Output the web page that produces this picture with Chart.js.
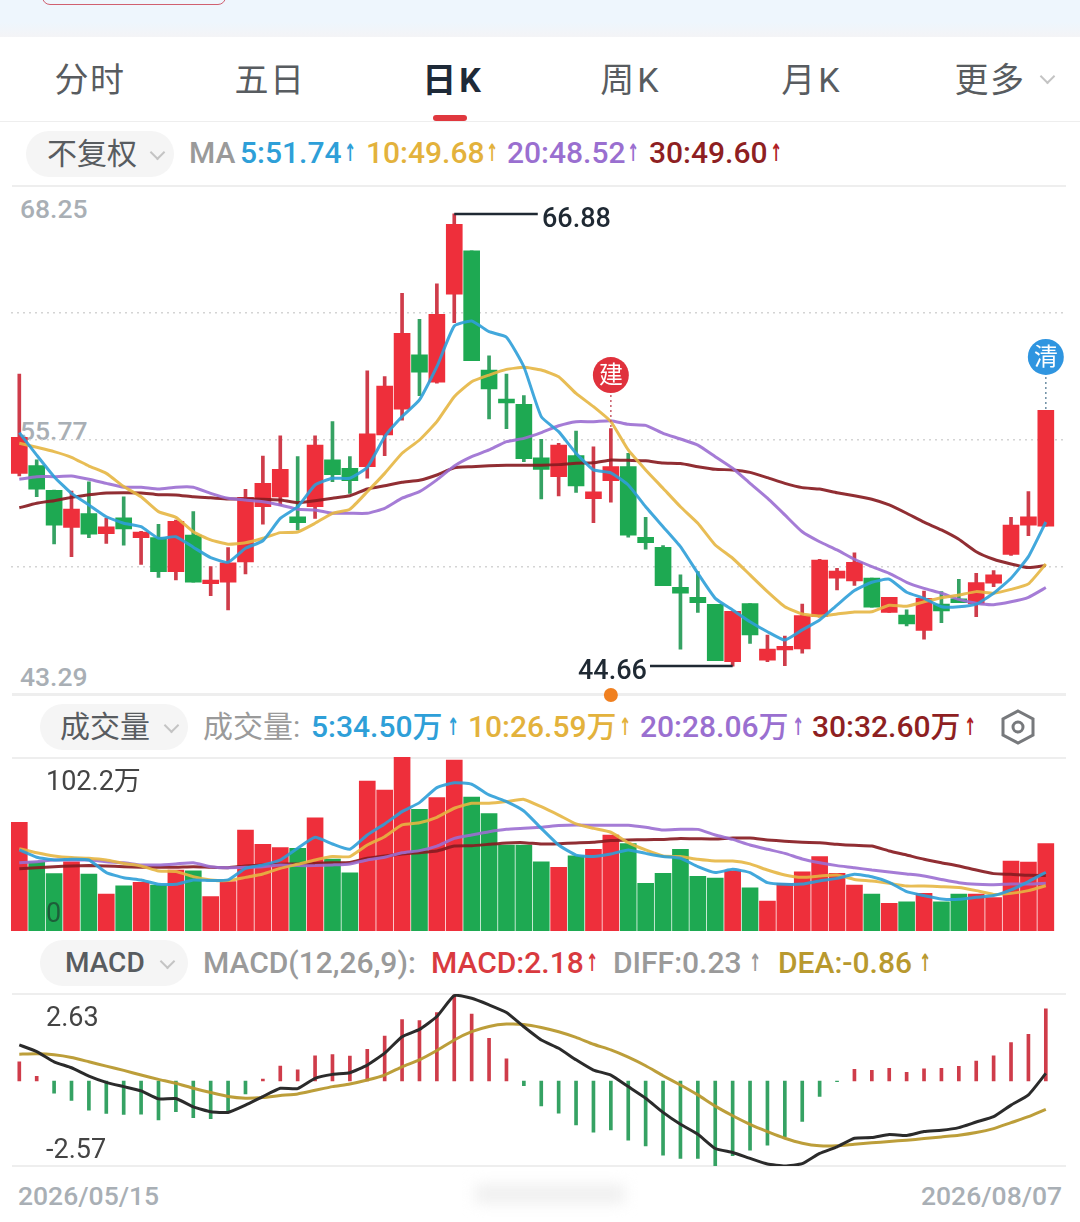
<!DOCTYPE html>
<html>
<head>
<meta charset="utf-8">
<script src="https://cdn.jsdelivr.net/npm/chart.js@4"></script>
<style>
html, body { margin: 0; padding: 0; background: #fff; }
body { position: relative; width: 1080px; height: 1222px; overflow: hidden; font-family: Roboto, "Noto Sans CJK SC", sans-serif; }
canvas { position: absolute; left: 0; z-index: 2; }
.t { position: absolute; white-space: nowrap; transform: translateY(-50%); z-index: 1; line-height: 1; }
.top { z-index: 3; }
.tab { font-size: 34px; letter-spacing: 1.5px; color: #585c60; transform: translate(-50%, -50%); }
.sub { font-size: 30px; font-weight: 500; letter-spacing: 0; }
.axis { font-size: 26.5px; color: #a9afb5; font-weight: 500; }
.dark { font-size: 27px; color: #444; }
.arrow { font-family: "DejaVu Sans"; font-weight: 700; font-size: 24px; transform: translateY(-50%) scaleX(0.6); transform-origin: left center; }
.pill { position: absolute; background: #f5f5f5; border-radius: 23px; }
.rule { position: absolute; left: 12px; width: 1054px; height: 2px; background: #eeeeee; }
.chev { position: absolute; width: 9px; height: 9px; border-right: 2px solid #c4c4c4; border-bottom: 2px solid #c4c4c4; transform: rotate(45deg); }
.mark { font-size: 24px; color: #fff; transform: translate(-50%, -50%); z-index: 3; }
</style>
</head>
<body>
<div style="position:absolute;left:0;top:0;width:1080px;height:37px;background:linear-gradient(#eef6fd 60%,#f4f4f6)"></div>
<div style="position:absolute;left:42px;top:-12px;width:182px;height:15px;border:1px solid #d06070;border-radius:8px"></div>

<span class="t tab" style="left:90px;top:80px">分时</span>
<span class="t tab" style="left:270px;top:80px">五日</span>
<span class="t tab" style="left:453px;top:80px;color:#1e2a38;font-weight:700;letter-spacing:3px">日K</span>
<span class="t tab" style="left:631px;top:80px;letter-spacing:3px">周K</span>
<span class="t tab" style="left:812px;top:80px;letter-spacing:3px">月K</span>
<span class="t tab" style="left:990px;top:80px">更多</span>
<div class="chev" style="left:1042px;top:71px"></div>
<div style="position:absolute;left:433px;top:115px;width:34px;height:6px;border-radius:3px;background:#e0383e"></div>
<div class="rule" style="left:0;width:1080px;top:121px;height:1px"></div>

<div class="pill" style="left:26px;top:131px;width:148px;height:46px"></div>
<span class="t sub" style="left:47px;top:154px;color:#585c60;font-size:30px;font-weight:400">不复权</span>
<div class="chev" style="left:152px;top:147px"></div>
<span class="t sub" style="left:189px;top:153px;color:#9a9a9a">MA</span>
<span class="t sub" style="left:240px;top:153px;color:#2e9fd8">5:51.74</span>
<span class="t arrow" style="left:344px;top:153px;color:#2e9fd8">↑</span>
<span class="t sub" style="left:366px;top:153px;color:#e3b23c">10:49.68</span>
<span class="t arrow" style="left:486px;top:153px;color:#e3b23c">↑</span>
<span class="t sub" style="left:507px;top:153px;color:#9a6fd0">20:48.52</span>
<span class="t arrow" style="left:627px;top:153px;color:#9a6fd0">↑</span>
<span class="t sub" style="left:649px;top:153px;color:#8e1f22">30:49.60</span>
<span class="t arrow" style="left:770px;top:153px;color:#b01f25">↑</span>
<div class="rule" style="top:185px"></div>

<span class="t axis" id="priceTop" style="left:20px;top:209px"></span>
<span class="t axis" id="priceMid" style="left:20px;top:431px"></span>
<span class="t axis" id="priceLow" style="left:20px;top:677px"></span>
<span class="t top" id="highText" style="left:542px;top:218px;font-size:27px;color:#1f2933;font-weight:500"></span>
<span class="t top" id="lowText" style="left:578px;top:670px;font-size:27px;color:#1f2933;font-weight:500"></span>
<span class="t mark" style="left:611px;top:375px">建</span>
<span class="t mark" style="left:1046px;top:357px">清</span>
<div class="rule" style="top:693px;height:3px"></div>

<div class="pill" style="left:40px;top:704px;width:148px;height:46px"></div>
<span class="t sub" style="left:60px;top:727px;color:#585c60;font-weight:400">成交量</span>
<div class="chev" style="left:166px;top:720px"></div>
<span class="t sub" style="left:203px;top:727px;color:#9a9a9a;font-weight:400">成交量:</span>
<span class="t sub" style="left:311px;top:727px;color:#2e9fd8">5:34.50万</span>
<span class="t arrow" style="left:447px;top:727px;color:#2e9fd8">↑</span>
<span class="t sub" style="left:468px;top:727px;color:#e3b23c">10:26.59万</span>
<span class="t arrow" style="left:619px;top:727px;color:#e3b23c">↑</span>
<span class="t sub" style="left:640px;top:727px;color:#9a6fd0">20:28.06万</span>
<span class="t arrow" style="left:792px;top:727px;color:#9a6fd0">↑</span>
<span class="t sub" style="left:812px;top:727px;color:#8e1f22">30:32.60万</span>
<span class="t arrow" style="left:964px;top:727px;color:#b01f25">↑</span>
<svg style="position:absolute;left:1000px;top:708px" width="36" height="38" viewBox="0 0 36 38"><polygon points="18,3 33,11 33,27 18,35 3,27 3,11" fill="none" stroke="#77797c" stroke-width="3"/><circle cx="18" cy="19" r="5" fill="none" stroke="#77797c" stroke-width="3"/></svg>
<div class="rule" style="top:757px"></div>
<span class="t dark top" id="volTop" style="left:46px;top:781px"></span>
<span class="t dark top" id="volZero" style="left:46px;top:913px;color:rgba(30,70,50,.75)"></span>

<div class="pill" style="left:40px;top:940px;width:148px;height:46px"></div>
<span class="t sub" style="left:65px;top:963px;color:#585c60;font-size:28px">MACD</span>
<div class="chev" style="left:162px;top:956px"></div>
<span class="t sub" style="left:203px;top:963px;color:#9a9a9a">MACD(12,26,9):</span>
<span class="t sub" style="left:431px;top:963px;color:#d93a3f">MACD:2.18</span>
<span class="t arrow" style="left:586px;top:963px;color:#d93a3f">↑</span>
<span class="t sub" style="left:613px;top:963px;color:#9a9a9a">DIFF:0.23</span>
<span class="t arrow" style="left:749px;top:963px;color:#9a9a9a">↑</span>
<span class="t sub" style="left:778px;top:963px;color:#b8992f">DEA:-0.86</span>
<span class="t arrow" style="left:919px;top:963px;color:#b8992f">↑</span>
<div class="rule" style="top:993px"></div>
<span class="t dark top" id="macdTop" style="left:46px;top:1017px"></span>
<span class="t dark top" id="macdLow" style="left:46px;top:1149px"></span>
<div class="rule" style="top:1165px"></div>
<div style="position:absolute;left:475px;top:1184px;width:150px;height:20px;background:#f0f0f0;filter:blur(7px)"></div>
<span class="t axis" id="dateStart" style="left:18px;top:1196px"></span>
<span class="t axis" id="dateEnd" style="left:921px;top:1196px"></span>

<canvas id="kline" width="1080" height="524" style="top:186px"></canvas>
<canvas id="volume" width="1080" height="174" style="top:757px"></canvas>
<canvas id="macd" width="1080" height="172" style="top:994px"></canvas>

<script>
const dates = ['2026/05/15', '2026/08/07'];
const priceTicks = [68.25, 55.77, 43.29];
const priceGrid = [62.01, 55.77, 49.53];
const volTicks = [102.2, 0];
const macdTicks = [2.63, -2.57];

const open = [54.13,54.51,53.30,51.48,52.15,51.17,51.94,50.97,50.97,49.30,51.10,48.71,48.78,49.78,52.49,52.97,51.99,52.49,54.80,54.38,
    54.46,56.02,57.29,59.95,58.61,62.93,65.06,59.20,57.78,57.52,54.90,53.97,55.00,52.89,53.77,54.46,50.99,50.50,48.53,48.04,
    47.70,44.88,47.73,44.95,45.45,45.50,47.09,48.98,48.84,48.98,47.30,47.17,46.42,47.71,47.97,47.71,48.73,50.15,51.59,51.53];
const close = [55.90,53.36,51.59,52.38,51.14,51.50,51.40,51.24,49.30,51.78,48.78,48.89,49.74,52.95,53.64,54.33,51.71,55.52,54.07,53.77,
    56.07,58.42,61.01,59.10,61.95,66.37,59.67,58.28,57.59,54.85,54.33,55.52,53.51,53.22,54.46,51.10,50.72,48.61,48.25,47.78,
    44.93,47.35,46.19,45.50,45.63,47.14,49.87,49.33,49.76,47.56,48.04,46.73,47.99,47.37,47.78,48.76,49.14,51.59,51.99,57.23];
const high = [59.01,54.79,53.31,53.26,53.72,51.92,52.98,51.28,51.63,51.84,52.25,49.55,50.48,53.35,54.98,55.98,54.95,55.97,56.67,54.95,
    59.17,58.88,62.98,61.70,63.44,66.88,65.06,59.90,59.01,57.95,55.80,55.61,56.21,55.43,56.33,55.12,51.97,50.58,49.14,49.30,
    47.70,47.35,47.73,46.19,46.14,47.71,49.91,49.47,50.23,48.98,48.04,47.42,48.35,48.32,48.93,49.22,49.35,51.97,53.23,57.23];
const low = [54.00,52.98,50.66,50.04,50.97,50.69,50.60,49.66,49.02,48.89,48.78,48.12,47.42,49.19,51.63,52.54,51.35,51.92,53.72,53.15,
    53.89,55.00,56.75,57.95,58.56,61.53,59.67,56.80,56.33,54.70,52.87,53.02,53.20,51.71,52.71,50.99,50.40,48.61,45.49,47.30,
    44.93,44.66,45.78,44.88,44.68,45.29,47.06,48.40,48.63,47.56,47.30,46.63,45.98,46.79,47.78,47.09,48.56,50.10,51.07,51.53];

const ma5 = [56.13,55.03,53.97,53.15,52.58,52.00,51.68,51.51,50.94,51.02,50.50,49.99,49.76,50.45,50.82,51.92,52.49,53.56,53.89,53.89,
    54.43,55.93,56.92,57.74,59.37,61.37,61.62,61.09,60.82,59.37,56.92,56.18,55.12,54.30,54.16,53.56,52.49,51.51,50.53,49.22,
    47.99,47.42,46.84,46.35,45.94,46.44,46.93,47.66,48.37,48.78,48.93,48.29,47.99,47.58,47.58,47.71,48.24,48.98,50.04,51.74];
const ma10 = [55.61,55.41,55.20,54.92,54.49,54.13,53.48,52.98,52.25,51.97,51.26,50.86,50.65,50.72,50.94,51.22,51.25,51.68,52.17,52.37,
    53.23,54.13,55.12,55.77,56.67,57.90,58.63,58.96,59.24,59.34,59.21,58.88,58.06,57.41,56.67,55.28,54.30,53.40,52.49,51.68,
    50.61,49.96,49.14,48.32,47.58,47.22,47.12,47.22,47.32,47.33,47.65,47.60,47.82,48.02,48.15,48.32,48.24,48.43,48.70,49.68];
const ma20 = [53.84,53.97,53.97,54.00,53.84,53.64,53.45,53.45,53.36,53.45,53.45,53.15,52.91,52.82,52.74,52.58,52.37,52.33,52.17,52.17,
    52.17,52.41,52.91,53.23,53.81,54.49,54.95,55.28,55.69,55.85,56.13,56.47,56.67,56.67,56.72,56.54,56.49,56.10,55.82,55.52,
    54.95,54.38,53.64,52.91,52.09,51.26,50.77,50.37,49.91,49.55,49.22,48.78,48.48,48.24,47.94,47.75,47.68,47.82,48.04,48.52];
const ma30 = [52.44,52.66,52.79,52.95,53.08,53.17,53.18,53.17,53.08,53.07,52.98,52.93,52.87,52.87,52.86,52.82,52.69,52.79,52.91,53.03,
    53.36,53.52,53.69,53.79,54.05,54.41,54.46,54.51,54.53,54.53,54.53,54.56,54.63,54.65,54.79,54.77,54.75,54.64,54.61,54.46,
    54.33,54.30,54.18,53.92,53.64,53.43,53.36,53.18,53.03,52.86,52.58,52.17,51.73,51.35,50.89,50.28,49.91,49.68,49.50,49.60];

const volume = [63.8,40.7,33.7,40.7,33.5,21.7,26.6,28.6,27.0,35.8,35.4,20.2,29.0,59.3,50.9,49.0,48.6,66.4,42.3,34.1,
    88.1,82.8,102.2,71.5,78.3,100.4,78.7,68.9,50.5,50.5,40.7,37.4,44.1,48.0,56.4,51.3,28.0,33.9,48.0,32.1,
    31.1,35.4,25.3,17.6,28.0,34.7,43.7,33.9,27.0,21.7,16.3,17.2,22.1,17.2,21.7,21.7,19.6,41.1,40.5,51.3];
const volMa5 = [47.6,43.3,41.7,42.1,41.7,34.3,31.3,30.0,27.4,27.4,30.0,29.6,30.0,36.8,38.8,41.7,48.6,55.0,51.1,48.0,
    56.4,62.9,70.1,75.4,84.2,87.1,86.2,79.9,76.0,70.5,60.3,50.5,44.6,43.7,45.2,47.6,45.6,43.7,42.7,37.8,
    34.3,36.2,34.3,28.4,27.4,27.6,29.4,30.9,33.3,31.9,28.6,23.1,20.8,18.8,18.6,19.8,20.8,24.1,29.0,34.5];
const volMa10 = [48.4,46.0,44.1,43.1,42.7,41.7,39.7,38.2,35.2,34.9,31.9,30.0,29.6,31.5,33.5,36.8,39.2,41.7,43.7,43.7,
    50.5,55.4,62.3,63.6,66.8,72.1,75.0,75.0,76.0,77.3,73.0,68.1,62.9,60.3,58.0,51.9,47.6,44.1,43.7,42.1,
    41.1,41.1,39.4,35.8,32.9,31.5,32.3,32.9,30.3,29.4,28.0,26.4,26.4,26.0,25.5,23.7,21.5,22.1,23.7,26.59];
const volMa20 = [40.1,40.7,41.7,41.7,41.7,40.7,40.1,38.8,38.8,39.4,40.1,37.8,37.2,37.4,37.8,38.8,38.4,38.4,38.8,39.4,
    41.7,43.3,46.0,47.2,49.9,54.4,56.4,58.3,59.7,60.3,60.9,61.9,62.3,62.1,62.1,62.1,60.9,59.3,59.7,59.7,
    56.4,53.8,50.5,48.0,45.6,42.3,40.1,38.4,37.2,35.8,34.7,33.5,32.3,30.3,28.4,27.4,27.2,27.6,27.6,28.06];
const volMa30 = [36.6,37.2,37.8,38.2,38.4,38.2,37.8,37.4,37.4,37.4,37.8,37.4,37.2,38.2,38.8,39.2,39.4,39.7,40.1,40.3,
    42.7,44.1,45.2,46.0,47.0,49.9,50.1,50.9,51.7,51.9,51.1,51.3,51.7,52.1,53.1,53.5,53.6,53.8,54.4,54.2,
    54.0,54.6,54.6,53.5,52.7,52.1,51.9,50.9,50.3,49.9,47.0,44.6,42.1,40.1,38.2,35.8,33.7,33.3,32.7,32.6];

const macdHist = [0.58,0.14,-0.37,-0.59,-0.88,-0.98,-1.01,-1.00,-1.18,-0.93,-1.11,-1.14,-0.93,-0.39,0.06,0.45,0.34,0.76,0.80,0.75,
    0.96,1.36,1.86,1.83,2.07,2.60,2.02,1.29,0.67,-0.14,-0.75,-0.97,-1.33,-1.55,-1.48,-1.79,-1.96,-2.24,-2.34,-2.34,
    -2.56,-2.26,-2.09,-1.94,-1.68,-1.22,-0.47,-0.02,0.35,0.32,0.38,0.26,0.37,0.38,0.44,0.60,0.76,1.16,1.41,2.18];
const diff = [1.09,0.89,0.58,0.40,0.15,-0.04,-0.17,-0.30,-0.54,-0.53,-0.78,-0.93,-0.95,-0.73,-0.47,-0.22,-0.23,0.08,0.20,0.25,
    0.48,0.84,1.34,1.56,1.95,2.58,2.50,2.30,2.07,1.64,1.24,0.99,0.64,0.33,0.18,-0.17,-0.52,-0.95,-1.31,-1.61,
    -2.04,-2.16,-2.34,-2.51,-2.57,-2.50,-2.19,-1.99,-1.73,-1.71,-1.62,-1.65,-1.53,-1.49,-1.41,-1.24,-1.08,-0.73,-0.42,0.23];
const dea = [0.81,0.82,0.79,0.71,0.58,0.45,0.32,0.18,0.05,-0.07,-0.22,-0.35,-0.47,-0.52,-0.50,-0.44,-0.39,-0.28,-0.17,-0.09,
    0.03,0.18,0.43,0.64,0.92,1.24,1.49,1.65,1.72,1.71,1.62,1.49,1.32,1.11,0.94,0.72,0.46,0.16,-0.12,-0.42,
    -0.76,-1.05,-1.31,-1.53,-1.73,-1.88,-1.96,-1.96,-1.91,-1.87,-1.83,-1.79,-1.74,-1.69,-1.64,-1.56,-1.44,-1.26,-1.08,-0.86];

const RED = '#ee2f3b', GREEN = '#1ea952', RED_THIN = '#cf3c4a', GREEN_THIN = '#35a263';
const BLUE_LINE = 'rgba(46,159,216,.9)', YELLOW_LINE = 'rgba(229,182,66,.9)', PURPLE_LINE = 'rgba(155,110,210,.9)', DARK_LINE = 'rgba(136,28,34,.92)';

// index of the candles carrying the 建 / 清 markers and their badge heights
const buildIndex = 34, clearIndex = 59;
const buildBadge = 58.96, clearBadge = 59.85, orangeDot = 43.24;
const highIndex = 25, lowIndex = 41, highLineEnd = 29.8, lowLineStart = 36.25;

// fill the text labels from the lists above
document.getElementById('priceTop').textContent = priceTicks[0].toFixed(2);
document.getElementById('priceMid').textContent = priceTicks[1].toFixed(2);
document.getElementById('priceLow').textContent = priceTicks[2].toFixed(2);
document.getElementById('highText').textContent = Math.max(...high).toFixed(2);
document.getElementById('lowText').textContent = Math.min(...low).toFixed(2);
document.getElementById('volTop').textContent = volTicks[0] + '万';
document.getElementById('volZero').textContent = volTicks[1];
document.getElementById('macdTop').textContent = macdTicks[0].toFixed(2);
document.getElementById('macdLow').textContent = macdTicks[1].toFixed(2);
document.getElementById('dateStart').textContent = dates[0];
document.getElementById('dateEnd').textContent = dates[1];

const isUp = i => close[i] >= open[i];
const upDown = (i, up, down) => isUp(i) ? up : down;

function points(values) {
    return values.map((v, i) => ({ x: i, y: v }));
}

function lineSet(values, color, order, width) {
    return {
        type: 'line',
        data: points(values),
        borderColor: color,
        borderWidth: width || 3,
        pointRadius: 0,
        tension: 0.15,
        order: order
    };
}

function barSet(data, colors, thickness, order) {
    return {
        type: 'bar',
        data: data,
        backgroundColor: colors,
        barThickness: thickness,
        grouped: false,
        order: order
    };
}

function segment(x1, y1, x2, y2, color, dash, order) {
    return {
        type: 'line',
        data: [{ x: x1, y: y1 }, { x: x2, y: y2 }],
        borderColor: color,
        borderWidth: dash ? 1.5 : 2.5,
        borderDash: dash || [],
        pointRadius: 0,
        order: order
    };
}

function badge(x, y, color, radius) {
    return {
        type: 'line',
        data: [{ x: x, y: y }],
        showLine: false,
        pointRadius: radius,
        pointBackgroundColor: color,
        pointBorderWidth: 0,
        clip: false,
        order: 0
    };
}

function makeChart(id, datasets, yMin, yMax, gridValues, bottomPad) {
    return new Chart(document.getElementById(id), {
        data: { datasets: datasets },
        options: {
            responsive: false,
            animation: false,
            devicePixelRatio: 1,
            events: [],
            layout: { autoPadding: false, padding: { left: 10.6, right: 14, top: 0, bottom: bottomPad || 0 } },
            plugins: { legend: { display: false }, tooltip: { enabled: false } },
            scales: {
                x: { type: 'linear', min: -0.5, max: 60.16, offset: false, display: false },
                y: {
                    min: yMin,
                    max: yMax,
                    afterBuildTicks: axis => { axis.ticks = gridValues.map(v => ({ value: v })); },
                    ticks: { display: false },
                    border: { display: false, dash: [2, 4] },
                    grid: { color: '#d4d4d4', drawTicks: false, lineWidth: 1.5, display: gridValues.length > 0 }
                }
            }
        }
    });
}

makeChart('kline', [
    lineSet(ma5, BLUE_LINE, 1),
    lineSet(ma10, YELLOW_LINE, 2),
    lineSet(ma20, PURPLE_LINE, 3),
    lineSet(ma30, DARK_LINE, 4),
    barSet(open.map((v, i) => ({ x: i, y: [v, close[i]] })), open.map((v, i) => upDown(i, RED, GREEN)), 16, 5),
    barSet(low.map((v, i) => ({ x: i, y: [v, high[i]] })), low.map((v, i) => upDown(i, RED_THIN, GREEN_THIN)), 3, 6),
    segment(highIndex, high[highIndex], highLineEnd, high[highIndex], '#1f2933', null, 1),
    segment(lowLineStart, low[lowIndex], lowIndex, low[lowIndex], '#1f2933', null, 1),
    segment(buildIndex, buildBadge, buildIndex, high[buildIndex], '#c85a68', [2, 3], 1),
    segment(clearIndex, clearBadge, clearIndex, high[clearIndex], '#6d8ea3', [2, 3], 1),
    badge(buildIndex, buildBadge, '#e0313c', 18),
    badge(clearIndex, clearBadge, '#2f95e0', 18),
    badge(buildIndex, orangeDot, '#f08020', 7)
], priceTicks[2], priceTicks[0], priceGrid, 16);

makeChart('volume', [
    lineSet(volMa5, BLUE_LINE, 1),
    lineSet(volMa10, YELLOW_LINE, 2),
    lineSet(volMa20, PURPLE_LINE, 3),
    lineSet(volMa30, DARK_LINE, 4),
    barSet(points(volume), volume.map((v, i) => upDown(i, RED, GREEN)), 16, 5)
], volTicks[1], volTicks[0], []);

makeChart('macd', [
    lineSet(diff, '#2b2b2b', 1),
    lineSet(dea, 'rgba(184,153,47,.95)', 2),
    barSet(points(macdHist), macdHist.map(v => v >= 0 ? RED_THIN : GREEN_THIN), 3, 5)
], macdTicks[1], macdTicks[0], []);
</script>
</body>
</html>
